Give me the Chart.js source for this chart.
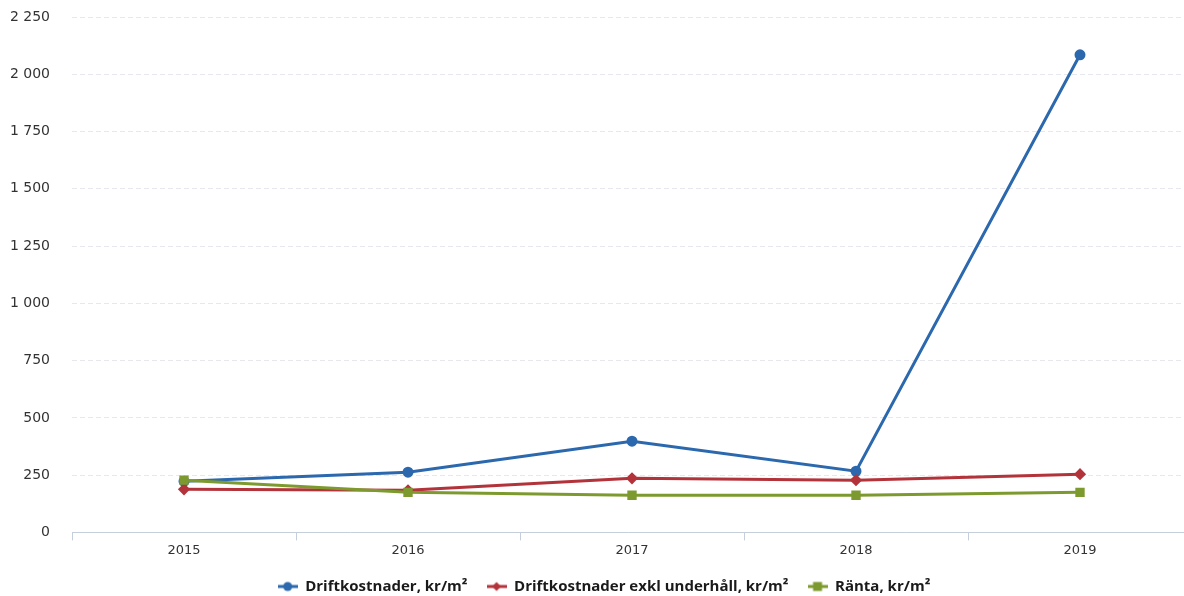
<!DOCTYPE html>
<html>
<head>
<meta charset="utf-8">
<script src="https://cdn.jsdelivr.net/npm/chart.js@4/dist/chart.umd.min.js"></script>
<style>
  html, body { margin: 0; padding: 0; background: #fff; overflow: hidden; }
  #myChart { display: block; width: 1184px; height: 596px; }
</style>
</head>
<body>
<canvas id="myChart" width="1184" height="596"></canvas>
<script>
const years = ["2015", "2016", "2017", "2018", "2019"];
const driftkostnader = [223, 263, 398, 267, 2085];
const driftExklUnderhall = [188, 184, 236, 228, 254];
const ranta = [228, 175, 162, 162, 175];
const yTicks = [0, 250, 500, 750, 1000, 1250, 1500, 1750, 2000, 2250];

const BLUE = "#2c68ad";
const RED = "#b3333b";
const GREEN = "#7d9a2f";

// small legend marker: line with the point style in the middle
function legendMarker(color, style) {
  const c = document.createElement("canvas");
  c.width = 20;
  c.height = 12;
  const ctx = c.getContext("2d");
  ctx.strokeStyle = color;
  ctx.fillStyle = color;
  ctx.lineWidth = 3;
  ctx.beginPath();
  ctx.moveTo(0, 6);
  ctx.lineTo(20, 6);
  ctx.stroke();
  ctx.beginPath();
  if (style === "circle") {
    ctx.arc(10, 6, 4.5, 0, Math.PI * 2);
  } else if (style === "rectRot") {
    ctx.moveTo(10, 1.5);
    ctx.lineTo(14.5, 6);
    ctx.lineTo(10, 10.5);
    ctx.lineTo(5.5, 6);
    ctx.closePath();
  } else {
    ctx.rect(5.5, 1.5, 9, 9);
  }
  ctx.fill();
  return c;
}

const fmt = (v) => String(v).replace(/\B(?=(\d{3})+(?!\d))/g, " ");

// the original plot runs a little past the right edge, and its legend sits right of centre
const layoutTweaks = {
  id: "layoutTweaks",
  afterLayout(chart) {
    const x = chart.scales.x;
    const area = chart.chartArea;
    area.right = 1192;
    area.width = area.right - area.left;
    x.right = 1192;
    x.width = x.right - x.left;
    x.configure();
    chart.legend.left += 12;
    chart.legend.right += 12;
  },
};

const ctx = document.getElementById("myChart").getContext("2d");
new Chart(ctx, {
  type: "line",
  data: {
    labels: years,
    datasets: [
      {
        label: "Driftkostnader, kr/m²",
        data: driftkostnader,
        borderColor: BLUE,
        backgroundColor: BLUE,
        borderWidth: 3,
        pointStyle: "circle",
        pointRadius: 4,
        order: 2,
      },
      {
        label: "Driftkostnader exkl underhåll, kr/m²",
        data: driftExklUnderhall,
        borderColor: RED,
        backgroundColor: RED,
        borderWidth: 3,
        pointStyle: "rectRot",
        pointRadius: 4,
        order: 1,
      },
      {
        label: "Ränta, kr/m²",
        data: ranta,
        borderColor: GREEN,
        backgroundColor: GREEN,
        borderWidth: 3,
        pointStyle: "rect",
        pointRadius: 4.5,
        order: 0,
      },
    ],
  },
  plugins: [layoutTweaks],
  options: {
    responsive: false,
    animation: false,
    layout: { padding: { top: 17, right: 0, bottom: -8, left: 0 } },
    plugins: {
      tooltip: { enabled: false },
      legend: {
        position: "bottom",
        labels: {
          usePointStyle: true,
          pointStyleWidth: 20,
          padding: 19,
          color: "#1a1a1a",
          font: { family: "Open Sans", size: 15, weight: "bold" },
          generateLabels: (chart) => {
            const styles = ["circle", "rectRot", "rect"];
            const colors = [BLUE, RED, GREEN];
            return Chart.defaults.plugins.legend.labels
              .generateLabels(chart)
              .sort((a, b) => a.datasetIndex - b.datasetIndex)
              .map((item) => {
                item.pointStyle = legendMarker(colors[item.datasetIndex], styles[item.datasetIndex]);
                return item;
              });
          },
        },
      },
    },
    scales: {
      x: {
        offset: true,
        grid: {
          offset: true,
          drawOnChartArea: false,
          drawTicks: true,
          tickLength: 8,
          color: "#c5cfdc",
        },
        border: { color: "#c5cfdc", width: 1 },
        ticks: {
          color: "#333",
          font: { family: "DejaVu Sans", size: 13 },
          padding: 2,
        },
      },
      y: {
        min: 0,
        max: 2250,
        afterBuildTicks: (axis) => {
          axis.ticks = yTicks.map((v) => ({ value: v }));
        },
        afterFit: (axis) => {
          axis.width = 72;
        },
        grid: {
          color: "#e6e8ee",
          drawTicks: true,
          tickLength: 20,
          tickColor: "rgba(0,0,0,0)",
        },
        border: { display: false, dash: [5, 3] },
        ticks: {
          color: "#333",
          font: { family: "DejaVu Sans", size: 14 },
          padding: 2,
          callback: (v) => fmt(v),
        },
      },
    },
  },
});
</script>
</body>
</html>
